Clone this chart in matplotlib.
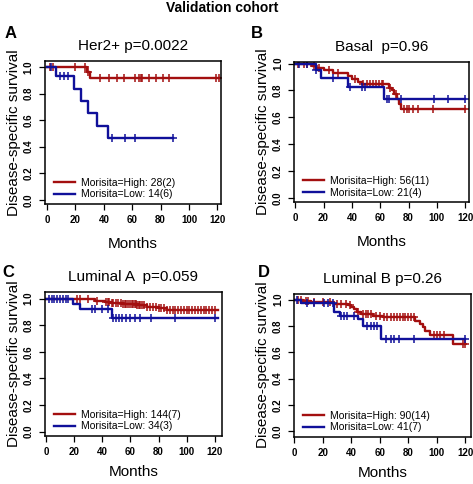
import numpy as np
import matplotlib
matplotlib.use("Agg")
import matplotlib.pyplot as plt

plt.rcParams['font.family'] = ['Liberation Sans', 'DejaVu Sans']

RED = '#a30f0f'
BLUE = '#10109a'

# ---- panel A: Her2+ ----
a_hi_t = [0, 28, 30]
a_hi_s = [1.0, 0.964, 0.917]
a_hi_end = 122
a_hi_cens = [2, 4, 20, 27, 28.5, 37, 44, 49, 54, 62, 65, 66.5, 67, 72, 77, 82, 86, 119, 121]
a_lo_t = [0, 6, 19, 24, 29, 35, 43]
a_lo_s = [1.0, 0.929, 0.836, 0.743, 0.65, 0.557, 0.464]
a_lo_end = 89
a_lo_cens = [3, 9, 12, 15, 46, 55, 62, 89]

# ---- panel B: Basal ----
b_hi_t = [0, 12, 15, 20, 27, 37, 40, 44, 47, 66, 68, 70, 72, 73, 75]
b_hi_s = [1.0, 0.98, 0.965, 0.95, 0.93, 0.91, 0.885, 0.865, 0.85, 0.82, 0.80, 0.77, 0.735, 0.70, 0.665]
b_hi_end = 120
b_hi_cens = [2, 6, 8, 13, 17, 24, 30, 42, 48, 51, 53, 55, 57, 59, 61, 62, 67, 71, 77, 79, 80, 83, 87, 97, 120]
b_lo_t = [0, 15, 18, 37, 63]
b_lo_s = [1.0, 0.95, 0.89, 0.825, 0.735]
b_lo_end = 120
b_lo_cens = [3, 8, 15, 27, 39, 47, 49, 65, 66, 75, 98, 108, 120]

# ---- panel C: Luminal A ----
c_hi_t = [0, 22, 35, 42, 46, 55, 65, 72, 80, 86]
c_hi_s = [1.0, 0.993, 0.985, 0.975, 0.965, 0.957, 0.948, 0.937, 0.925, 0.915]
c_hi_end = 122
c_hi_cens = [22, 24, 30, 36, 43, 44, 45, 47, 48, 50, 51, 53, 55, 56, 57, 58, 60, 61, 62, 63,
             64, 65, 66, 67, 68, 70, 72, 74, 76, 78, 80, 82, 84, 86, 88, 90, 92, 94, 96, 98,
             100, 102, 104, 106, 108, 110, 112, 114, 116, 118, 120]
c_lo_t = [0, 19, 24, 47]
c_lo_s = [1.0, 0.96, 0.92, 0.855]
c_lo_end = 122
c_lo_cens = [2, 4, 6, 8, 10, 12, 14, 16, 33, 35, 40, 44, 48, 50, 52, 54, 57, 60, 63, 67, 75, 92, 120]

# ---- panel D: Luminal B ----
d_hi_t = [0, 6, 12, 28, 38, 40, 42, 44, 47, 55, 62, 85, 88, 90, 92, 95, 111]
d_hi_s = [1.0, 0.99, 0.98, 0.97, 0.96, 0.945, 0.93, 0.91, 0.89, 0.878, 0.865, 0.84, 0.815,
          0.79, 0.76, 0.73, 0.66]
d_hi_end = 120
d_hi_cens = [3, 5, 8, 10, 14, 20, 25, 30, 33, 36, 39, 45, 48, 50, 52, 54, 57, 60, 63, 65, 68,
             70, 72, 74, 76, 78, 80, 82, 84, 98, 100, 102, 105, 118, 120]
d_lo_t = [0, 5, 28, 32, 45, 48, 61]
d_lo_s = [1.0, 0.975, 0.91, 0.875, 0.855, 0.80, 0.70]
d_lo_end = 120
d_lo_cens = [2, 9, 14, 21, 24, 27, 32.5, 35, 37, 42, 51, 54, 56, 58, 64, 67.5, 70, 73.5, 84, 120]

panels = [
    ("A", "Her2+ p=0.0022", (a_hi_t, a_hi_s, a_hi_end, a_hi_cens), (a_lo_t, a_lo_s, a_lo_end, a_lo_cens),
     "Morisita=High: 28(2)", "Morisita=Low: 14(6)", [0.095, 0.579, 0.372, 0.295], (-1.5, 122.5), (-0.03, 1.045),
     (0.010, 0.930), 9),
    ("B", "Basal  p=0.96", (b_hi_t, b_hi_s, b_hi_end, b_hi_cens), (b_lo_t, b_lo_s, b_lo_end, b_lo_cens),
     "Morisita=High: 56(11)", "Morisita=Low: 21(4)", [0.622, 0.583, 0.370, 0.289], (-0.7, 122.8), (-0.03, 1.012),
     (0.530, 0.930), 9),
    ("C", "Luminal A  p=0.059", (c_hi_t, c_hi_s, c_hi_end, c_hi_cens), (c_lo_t, c_lo_s, c_lo_end, c_lo_cens),
     "Morisita=High: 144(7)", "Morisita=Low: 34(3)", [0.095, 0.100, 0.374, 0.297], (-0.7, 125), (-0.03, 1.05),
     (0.006, 0.438), 6),
    ("D", "Luminal B p=0.26", (d_hi_t, d_hi_s, d_hi_end, d_hi_cens), (d_lo_t, d_lo_s, d_lo_end, d_lo_cens),
     "Morisita=High: 90(14)", "Morisita=Low: 41(7)", [0.622, 0.098, 0.374, 0.295], (0, 124), (-0.04, 1.045),
     (0.545, 0.436), 6),
]


def km(ax, curve, color, label):
    t, s, end, cens = curve
    xs = list(t) + [end]
    ys = list(s) + [s[-1]]
    ax.step(xs, ys, where='post', color=color, lw=1.7, label=label)
    cens = np.array(cens, dtype=float)
    idx = np.searchsorted(np.array(t), cens, side='right') - 1
    ax.plot(cens, np.array(s)[idx], '+', color=color, ms=5.5, mew=1.1, ls='none')


fig = plt.figure(figsize=(4.73, 4.84), dpi=100)
fig.text(0.47, 1 - 8 / 484, "Validation cohort", ha='center', va='center', fontsize=10, fontweight='bold')

for letter, title, hi, lo, lab_hi, lab_lo, pos, xl, yl, lpos, xpad in panels:
    ax = fig.add_axes(pos)
    km(ax, hi, RED, lab_hi)
    km(ax, lo, BLUE, lab_lo)
    ax.set_xlim(*xl)
    ax.set_ylim(*yl)
    ax.set_xticks(range(0, 121, 20))
    ax.set_yticks([0.0, 0.2, 0.4, 0.6, 0.8, 1.0])
    ax.set_yticklabels(["0.0", "0.2", "0.4", "0.6", "0.8", "1.0"], rotation=90, va='center')
    ax.tick_params(labelsize=7, length=4, width=0.9, pad=4)
    for lab in ax.get_xticklabels() + ax.get_yticklabels():
        lab.set_fontweight('bold')
    for sp in ax.spines.values():
        sp.set_linewidth(1.1)
    ax.set_title(title, fontsize=11, pad=8)
    ax.set_xlabel("Months", fontsize=11, labelpad=xpad)
    ax.set_ylabel("Disease-specific survival", fontsize=11, labelpad=2)
    ax.legend(loc='lower left', bbox_to_anchor=(0.05, 0.03), frameon=False, fontsize=7.5,
              handlelength=2.0, handletextpad=0.6, labelspacing=0.15, borderaxespad=0,
              borderpad=0)
    fig.text(lpos[0], lpos[1], letter, fontsize=12, fontweight='bold', ha='left', va='center')

fig.savefig("out.png", dpi=100)
